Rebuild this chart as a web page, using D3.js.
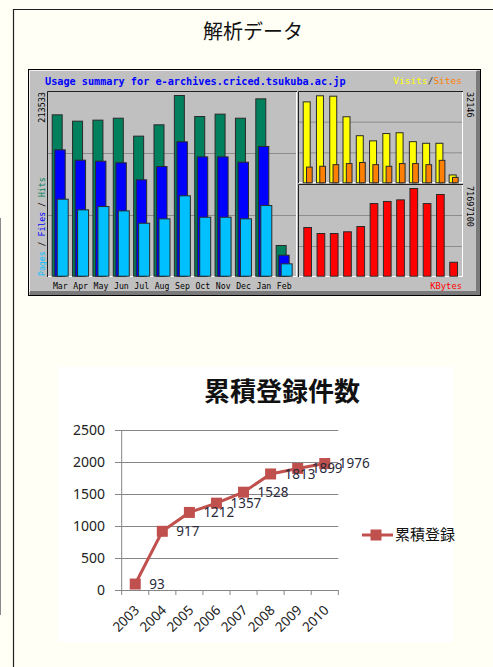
<!DOCTYPE html>
<html><head><meta charset="utf-8">
<script src="https://cdn.jsdelivr.net/npm/d3@7"></script>
<style>html,body{margin:0;padding:0;background:#fffff5;}svg{display:block;}</style>
</head><body>
<script>
// ---- Data: webalizer usage summary ----
const months = ["Mar","Apr","May","Jun","Jul","Aug","Sep","Oct","Nov","Dec","Jan","Feb"];
const hits   = [190700,183200,184400,186700,165500,178900,213533,188700,191500,186700,209600,36300];
const files  = [149300,137100,135900,134000,113900,129600,158800,141000,141000,134700,153300,24800];
const pages  = [91000,78400,82300,77200,62600,67800,95000,69700,69700,67800,83500,14600];
const visits = [29900,32146,32000,24400,17400,15500,18200,18500,15200,14600,14600,2900];
const sites  = [5800,6100,6700,7100,7500,6700,6100,7100,7100,6700,8300,2000];
const kbytes = [39800000,34900000,34900000,36300000,40600000,59400000,61100000,62400000,71697100,59400000,66800000,11400000];
const maxHits = 213533, maxVisits = 32146, maxKB = 71697100;

// ---- Data: cumulative registrations ----
const years = ["2003","2004","2005","2006","2007","2008","2009","2010"];
const registrations = [93,917,1212,1357,1528,1813,1899,1976];
const yTicks = [0,500,1000,1500,2000,2500];

const W = 493, H = 667;
const svg = d3.select("body").append("svg").attr("width", W).attr("height", H);
svg.append("rect").attr("width", W).attr("height", H).attr("fill", "#fffff5");

// page frame lines
svg.append("line").attr("x1",0.5).attr("x2",0.5).attr("y1",218).attr("y2",615).attr("stroke","#8a8a8a").attr("stroke-width",1);
svg.append("path").attr("d","M13.5,667 V9.5 H493").attr("fill","none").attr("stroke","#222").attr("stroke-width",1.2);

svg.append("text").attr("x",253).attr("y",39).attr("text-anchor","middle")
  .attr("font-family","'Noto Sans CJK JP'").attr("font-size",20).attr("fill","#111").text("解析データ");

// ---- Webalizer image ----
const wg = svg.append("g");
const fx0 = 28, fy0 = 69, fx1 = 481, fy1 = 296;
wg.append("rect").attr("x",fx0+0.5).attr("y",fy0+0.5).attr("width",fx1-fx0-1).attr("height",fy1-fy0-1)
  .attr("fill","#c0c0c0").attr("stroke","#000");
wg.append("path").attr("d",`M${fx1-3},${fy0+2} V${fy1-3} H${fx0+2}`).attr("fill","none").attr("stroke","#7a7a7a").attr("stroke-width",4);
wg.append("path").attr("d",`M${fx0+1.5},${fy1-4} V${fy0+1.5} H${fx1-4}`).attr("fill","none").attr("stroke","#f0f0f0").attr("stroke-width",1);

const mono = "'DejaVu Sans Mono', 'Liberation Mono', monospace";
wg.append("text").attr("x",45).attr("y",85).attr("font-family",mono).attr("font-weight","bold")
  .attr("font-size",10.2).attr("fill","#0000ff").text("Usage summary for e-archives.criced.tsukuba.ac.jp");

// panels
const panels = [
  {x0:47,y0:91,x1:297,y1:277},
  {x0:298,y0:91,x1:463,y1:183},
  {x0:298,y0:184,x1:463,y1:277}
];
panels.forEach(p=>{
  [1,2].forEach(k=>{
    const yy = p.y0 + (p.y1-p.y0)*k/3;
    wg.append("line").attr("x1",p.x0).attr("x2",p.x1).attr("y1",yy+0.5).attr("y2",yy+0.5).attr("stroke","#8c8c8c");
  });
  wg.append("path").attr("d",`M${p.x0+0.5},${p.y1} V${p.y0+0.5} H${p.x1}`).attr("fill","none").attr("stroke","#202020");
  wg.append("path").attr("d",`M${p.x1-0.5},${p.y0+1} V${p.y1-0.5} H${p.x0+1}`).attr("fill","none").attr("stroke","#ffffff");
});

// left panel scales
const xL = d3.scaleBand().domain(months).range([51.7, 51.7 + 12*20.36]).paddingInner(0).paddingOuter(0);
const yL = d3.scaleLinear().domain([0, maxHits]).range([275.7, 95]);
const barStroke = "#2a2a2a";
function bars(g, vals, scaleX, scaleY, dx, w, color){
  g.selectAll(null).data(vals).enter().append("rect")
    .attr("x",(d,i)=>scaleX(months[i])+dx+0.5)
    .attr("y",d=>scaleY(d)+0.5)
    .attr("width",w-1)
    .attr("height",d=>scaleY(0)-scaleY(d))
    .attr("fill",color).attr("stroke",barStroke).attr("stroke-width",1);
}
bars(wg, hits, xL, yL, 0, 11, "#00805c");
bars(wg, files, xL, yL, 2.6, 11.4, "#0000ff");
bars(wg, pages, xL, yL, 5, 12, "#00c0ff");

wg.selectAll(null).data(months).enter().append("text")
  .attr("x",m=>xL(m)+8.6).attr("y",289).attr("text-anchor","middle")
  .attr("font-family",mono).attr("font-size",8.2).attr("fill","#000").text(m=>m);

// right top
const xR = d3.scaleBand().domain(months).range([302.7, 302.7 + 12*13.27]);
const yV = d3.scaleLinear().domain([0, maxVisits]).range([182.3, 95.3]);
bars(wg, visits, xR, yV, 0, 8, "#ffff00");
bars(wg, sites, xR, yV, 3.3, 6.7, "#ff8000");
// right bottom
const xK = d3.scaleBand().domain(months).range([303.3, 303.3 + 12*13.27]);
const yK = d3.scaleLinear().domain([0, maxKB]).range([275.7, 188]);
bars(wg, kbytes, xK, yK, 0, 8.7, "#ff0000");

// axis texts
wg.append("text").attr("transform","translate(44.5,92) rotate(-90)").attr("text-anchor","end")
  .attr("font-family",mono).attr("font-size",8.5).attr("fill","#000").text(String(maxHits));
const leg = wg.append("text").attr("transform","translate(44.5,276) rotate(-90)")
  .attr("font-family",mono).attr("font-size",8.2);
[["Pages","#00c0ff"],[" / ","#000"],["Files","#0000ff"],[" / ","#000"],["Hits","#00805c"]]
  .forEach(([t,c])=>leg.append("tspan").attr("fill",c).text(t));
wg.append("text").attr("transform","translate(466.5,92) rotate(90)")
  .attr("font-family",mono).attr("font-size",8.5).attr("fill","#000").text(String(maxVisits));
wg.append("text").attr("transform","translate(466.5,186) rotate(90)")
  .attr("font-family",mono).attr("font-size",8.5).attr("fill","#000").text(String(maxKB));
const vs = wg.append("text").attr("x",462).attr("y",84).attr("text-anchor","end")
  .attr("font-family",mono).attr("font-size",9.5);
[["Visits","#ffff00"],["/","#404040"],["Sites","#ff8000"]].forEach(([t,c])=>vs.append("tspan").attr("fill",c).text(t));
wg.append("text").attr("x",462).attr("y",289).attr("text-anchor","end")
  .attr("font-family",mono).attr("font-size",8.8).attr("fill","#ff0000").text("KBytes");

// ---- Excel line chart ----
const eg = svg.append("g");
eg.append("rect").attr("x",58).attr("y",367).attr("width",395).attr("height",275).attr("fill","#ffffff");
eg.append("text").attr("x",282).attr("y",401).attr("text-anchor","middle")
  .attr("font-family","'Noto Sans CJK JP'").attr("font-weight","bold").attr("font-size",26).attr("fill","#111")
  .text("累積登録件数");

const x = d3.scaleBand().domain(years).range([121.7, 338.3]);
const y = d3.scaleLinear().domain([0, 2500]).range([590, 430]);
const txtFont = "'Noto Sans', 'Open Sans', sans-serif";

const yAxis = d3.axisLeft(y).tickValues(yTicks).tickSize(-(338.3-115)).tickPadding(10).tickFormat(d3.format("d"));
const ya = eg.append("g").attr("transform","translate(115,0)").call(yAxis);
ya.select(".domain").remove();
ya.selectAll(".tick line").attr("stroke","#868686");
ya.selectAll(".tick text").attr("font-family",txtFont).attr("font-size",14).attr("fill","#222");

eg.append("line").attr("x1",121.7).attr("x2",121.7).attr("y1",430).attr("y2",590).attr("stroke","#868686");
const bounds = years.map(d=>x(d)).concat([x.range()[1]]);
eg.selectAll(null).data(bounds).enter().append("line")
  .attr("x1",d=>d).attr("x2",d=>d).attr("y1",590).attr("y2",595).attr("stroke","#868686");
eg.selectAll(null).data(years).enter().append("text")
  .attr("transform",d=>`translate(${x(d)+x.bandwidth()/2+5},611) rotate(-45)`)
  .attr("text-anchor","end").attr("font-family",txtFont).attr("font-size",13.5).attr("fill","#222").text(d=>d);

const cx = (d,i)=>x(years[i])+x.bandwidth()/2;
const line = d3.line().x((d,i)=>cx(d,i)).y(d=>y(d));
eg.append("path").datum(registrations).attr("d",line).attr("fill","none").attr("stroke","#c0504d").attr("stroke-width",3);
eg.selectAll(null).data(registrations).enter().append("rect")
  .attr("x",(d,i)=>cx(d,i)-5.5).attr("y",d=>y(d)-5.5).attr("width",11).attr("height",11).attr("fill","#c0504d");
eg.selectAll(null).data(registrations).enter().append("text")
  .attr("x",(d,i)=>cx(d,i)+14).attr("y",d=>y(d)).attr("dy","0.35em")
  .attr("font-family",txtFont).attr("font-size",13.5).attr("fill","#2a2a3a").text(d=>d);

// legend
eg.append("line").attr("x1",362).attr("x2",393).attr("y1",535).attr("y2",535).attr("stroke","#c0504d").attr("stroke-width",3);
eg.append("rect").attr("x",376-5.5).attr("y",535-5.5).attr("width",11).attr("height",11).attr("fill","#c0504d");
eg.append("text").attr("x",395).attr("y",535).attr("dy","0.35em").attr("font-family","'Noto Sans CJK JP'")
  .attr("font-size",15).attr("fill","#111").text("累積登録");
</script>
</body></html>
